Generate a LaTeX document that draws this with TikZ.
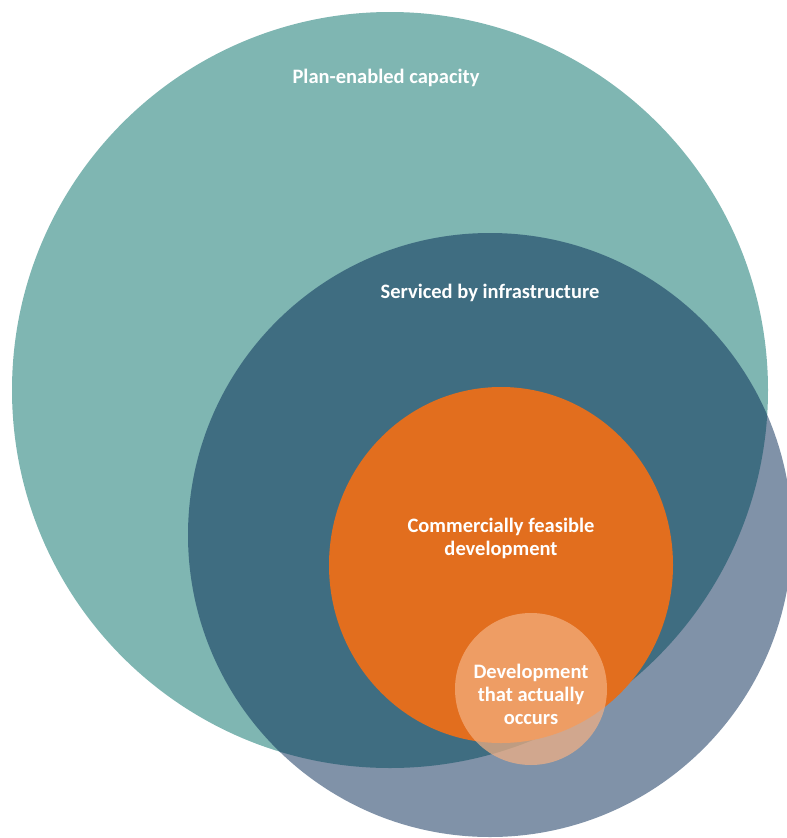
\documentclass[tikz,border=0pt]{standalone}
\usepackage{fontspec}
\setmainfont{Carlito}
\definecolor{plancol}{RGB}{127,182,178}
\definecolor{servicecol}{RGB}{1,37,81}
\definecolor{feasiblecol}{RGB}{226,110,30}
\definecolor{occurscol}{RGB}{244,177,131}
\begin{document}
\begin{tikzpicture}[x=1pt,y=-1pt,
  ringtext/.style={text=white,font=\bfseries\fontsize{20.5}{23}\selectfont,align=center,inner sep=0pt}]
\useasboundingbox (0,0) rectangle (787,838);
% the four rings
\fill[plancol] (390,390) circle (378);
\fill[servicecol,fill opacity=0.5] (490,535) circle (302);
\fill[feasiblecol] (501,565) ellipse (172 and 178);
\fill[occurscol,fill opacity=0.7] (531,689) circle (76);

\node[ringtext] (plan) at (386,78) {Plan-enabled capacity};
\node[ringtext] (service) at (490,293) {Serviced by infrastructure};
\node[ringtext] (feasible) at (501,538) {Commercially feasible\\development};
\node[ringtext] (occurs) at (531,694) {Development\\that actually\\occurs};
\end{tikzpicture}
\end{document}
